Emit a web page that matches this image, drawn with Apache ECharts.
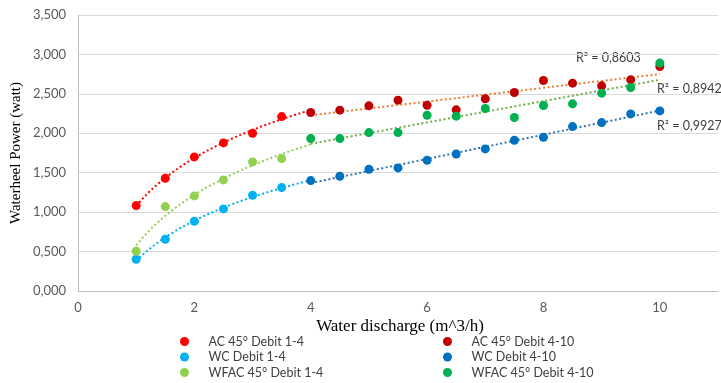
<!DOCTYPE html>
<html>
<head>
<meta charset="utf-8">
<script src="https://cdn.jsdelivr.net/npm/echarts@6/dist/echarts.min.js"></script>
<style>html,body{margin:0;padding:0;background:#fff}#c{width:721px;height:383px}</style>
</head>
<body>
<div id="c"></div>
<script>
// ---- data (Water discharge m^3/h -> Waterheel power) ----
const xLow = [1, 1.5, 2, 2.5, 3, 3.5];
const xHigh = [4, 4.5, 5, 5.5, 6, 6.5, 7, 7.5, 8, 8.5, 9, 9.5, 10];

const acLow   = [1.083, 1.430, 1.700, 1.878, 2.001, 2.212];
const acHigh  = [2.263, 2.293, 2.348, 2.420, 2.356, 2.297, 2.437, 2.517, 2.669, 2.636, 2.602, 2.678, 2.847];
const wcLow   = [0.402, 0.656, 0.884, 1.041, 1.214, 1.311];
const wcHigh  = [1.400, 1.455, 1.544, 1.561, 1.658, 1.738, 1.802, 1.912, 1.950, 2.085, 2.136, 2.246, 2.284];
const wfacLow = [0.504, 1.070, 1.206, 1.409, 1.637, 1.679];
const wfacHigh= [1.933, 1.933, 2.009, 2.009, 2.229, 2.217, 2.314, 2.200, 2.352, 2.373, 2.509, 2.580, 2.890];

const seriesNames = ['AC 45° Debit 1-4', 'WC Debit 1-4', 'WFAC 45° Debit 1-4',
                     'AC 45° Debit 4-10', 'WC Debit 4-10', 'WFAC 45° Debit 4-10'];
const r2Labels = ['R² = 0,8603', 'R² = 0,8942', 'R² = 0,9927'];
const yTicks = [0, 0.5, 1, 1.5, 2, 2.5, 3, 3.5];
const xTicks = [0, 2, 4, 6, 8, 10];

// ---- least-squares trendlines computed from the data ----
function linFitT(ts, ys) {
  const n = ts.length;
  const mt = ts.reduce((a, b) => a + b, 0) / n, my = ys.reduce((a, b) => a + b, 0) / n;
  let sty = 0, stt = 0;
  ts.forEach((t, i) => { sty += (t - mt) * (ys[i] - my); stt += (t - mt) * (t - mt); });
  const m = sty / stt;
  return t => my + m * (t - mt);
}
function logFit(xs, ys) {
  const f = linFitT(xs.map(Math.log), ys);
  return x => f(Math.log(x));
}
function linFit(xs, ys) { return linFitT(xs, ys); }
function curve(f, x0, x1) {
  const pts = [];
  for (let i = 0; i <= 60; i++) { const x = x0 + (x1 - x0) * i / 60; pts.push([x, f(x)]); }
  return pts;
}
const zip = (xs, ys) => xs.map((x, i) => [x, ys[i]]);

const colors = ['#FF0000', '#00B0F0', '#92D050', '#C00000', '#0070C0', '#00B050'];
const trendColors = ['#FF0000', '#00B0F0', '#92D050', '#ED7D31', '#2E75B6', '#70AD47'];
const groups = [
  [xLow, acLow, 'low'], [xLow, wcLow, 'low'], [xLow, wfacLow, 'low'],
  [xHigh, acHigh, 'high'], [xHigh, wcHigh, 'high'], [xHigh, wfacHigh, 'high']
];

const series = [];
groups.forEach((g, i) => {
  const f = g[2] === 'low' ? logFit(g[0], g[1]) : linFit(g[0], g[1]);
  const range = g[2] === 'low' ? [1, 4] : [4, 10];
  series.push({
    type: 'line', data: curve(f, range[0], range[1]), showSymbol: false, silent: true,
    lineStyle: { color: trendColors[i], width: 2, type: [2, 2.5] }, z: 2
  });
});
groups.forEach((g, i) => {
  series.push({
    name: seriesNames[i], type: 'scatter', data: zip(g[0], g[1]),
    symbolSize: 9, itemStyle: { color: colors[i], opacity: 1 }, z: 3
  });
});

const fmtY = v => v.toFixed(3).replace('.', ',');
const legendCommon = {
  orient: 'vertical', icon: 'circle', itemWidth: 38, itemHeight: 9, itemGap: 0.5,
  padding: 0, height: 60,
  textStyle: { fontFamily: 'Lato', fontSize: 12.5, color: '#404040', lineHeight: 15 },
  selectedMode: false
};

const chart = echarts.init(document.getElementById('c'));
chart.setOption({
  animation: false,
  backgroundColor: '#fff',
  grid: { left: 78, right: 3, top: 15, bottom: 92, containLabel: false },
  xAxis: {
    type: 'value', min: 0, max: 11, interval: 2,
    axisLine: { show: true, lineStyle: { color: '#BFBFBF' } },
    axisTick: { show: false }, splitLine: { show: false },
    axisLabel: { showMaxLabel: false, margin: 10, fontFamily: 'Lato', fontSize: 13, color: '#595959',
      formatter: v => (xTicks.indexOf(v) >= 0 ? String(v) : '') }
  },
  yAxis: {
    type: 'value', min: yTicks[0], max: yTicks[yTicks.length - 1], interval: 0.5,
    axisLine: { show: true, lineStyle: { color: '#BFBFBF' } },
    axisTick: { show: false },
    splitLine: { show: true, lineStyle: { color: '#D9D9D9', width: 1 } },
    axisLabel: { margin: 12, fontFamily: 'Lato', fontSize: 13, color: '#595959', formatter: fmtY }
  },
  legend: [
    Object.assign({ left: 180, top: 334, data: seriesNames.slice(0, 3) }, legendCommon),
    Object.assign({ left: 443, top: 334, data: seriesNames.slice(3, 6) }, legendCommon)
  ],
  graphic: [
    { type: 'text', x: 400, y: 327, style: { text: 'Water discharge (m^3/h)', font: '17px "Liberation Serif"', fill: '#000', textAlign: 'center', textVerticalAlign: 'middle' } },
    { type: 'text', x: 16, y: 153, rotation: Math.PI / 2, style: { text: 'Waterheel Power (watt)', font: '15px "Liberation Serif"', fill: '#000', textAlign: 'center', textVerticalAlign: 'middle' } },
    { type: 'text', x: 576, y: 58, style: { text: r2Labels[0], font: '12.5px Lato', fill: '#404040', textVerticalAlign: 'middle' } },
    { type: 'text', x: 657, y: 89, style: { text: r2Labels[1], font: '12.5px Lato', fill: '#404040', textVerticalAlign: 'middle' } },
    { type: 'text', x: 657, y: 126, style: { text: r2Labels[2], font: '12.5px Lato', fill: '#404040', textVerticalAlign: 'middle' } }
  ],
  series: series
});
</script>
</body>
</html>
